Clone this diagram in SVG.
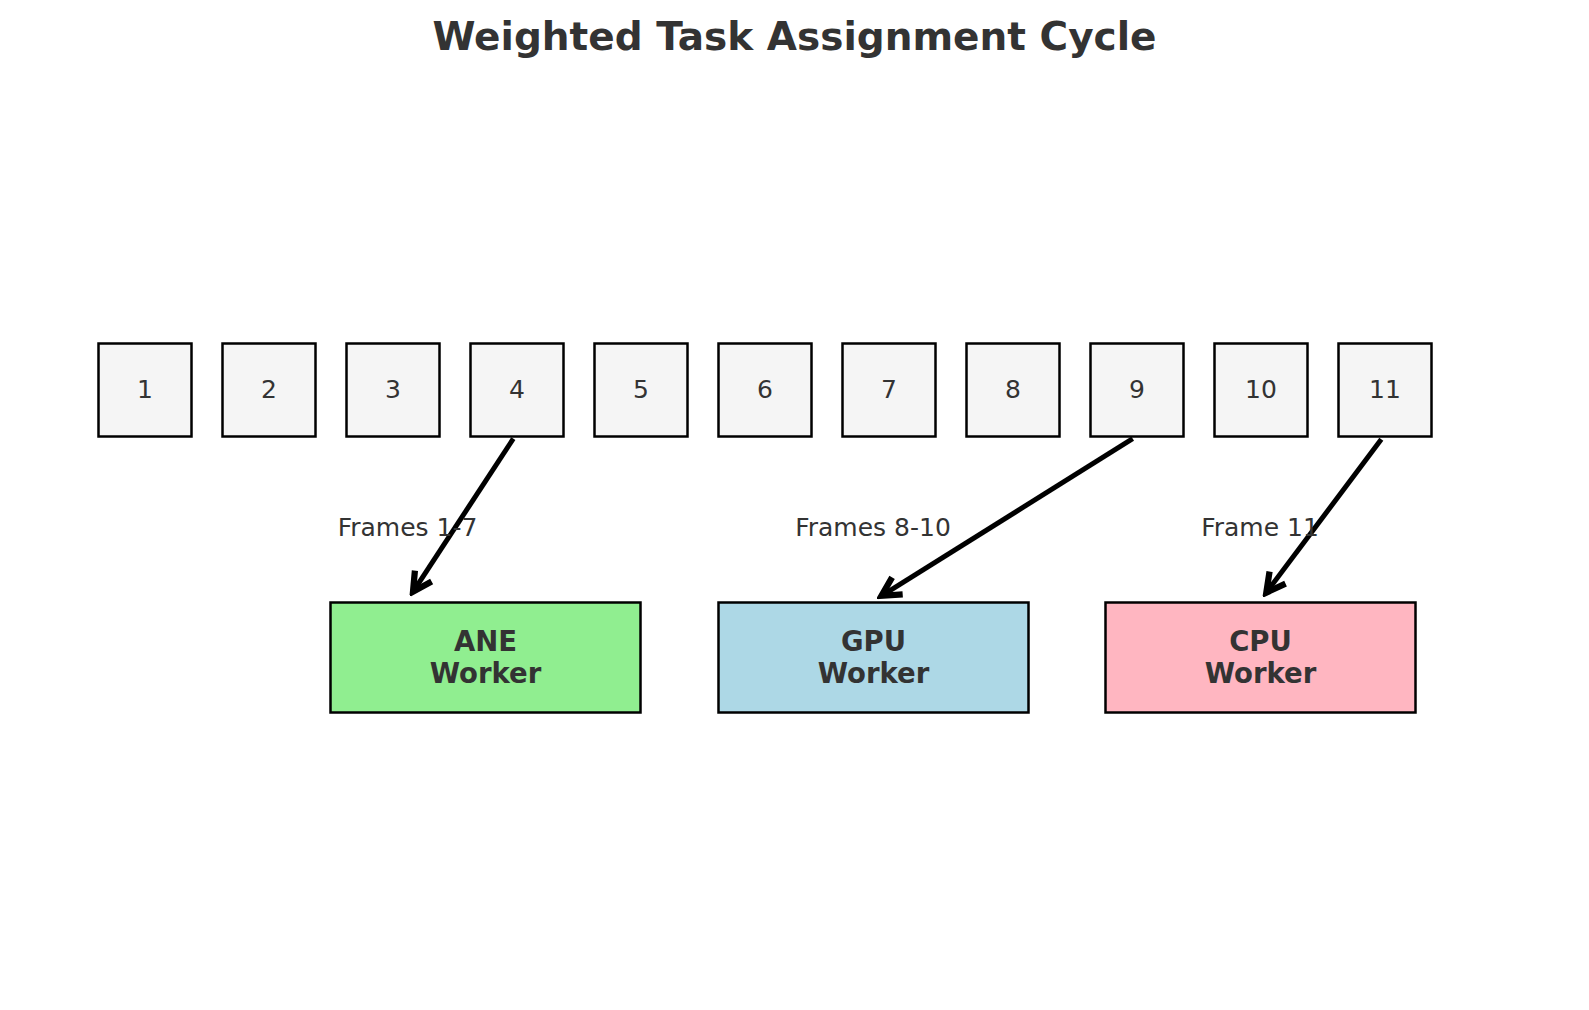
<svg xmlns="http://www.w3.org/2000/svg" width="1589" height="1010" viewBox="0 0 1589 1010">
<style>
text{font-family:"DejaVu Sans","Liberation Sans",sans-serif;fill:#333333}
.title{font-size:39px;font-weight:bold}
.frame rect{fill:#f5f5f5;stroke:#000;stroke-width:2.5}
.frame text{font-size:25px;text-anchor:middle}
.worker rect{stroke:#000;stroke-width:2.5}
.worker text{font-size:27.5px;font-weight:bold;text-anchor:middle}
.lbl{font-size:25px;text-anchor:middle}
.conn line{stroke:#000;stroke-width:5;fill:none}
</style>
<defs>
<marker id="ah" markerUnits="userSpaceOnUse" markerWidth="30" markerHeight="30" viewBox="-20 -12 24 24" refX="0" refY="0" orient="auto">
<path d="M-15,-8 L0,0 L-15,8" fill="none" stroke="#000" stroke-width="5" stroke-linejoin="miter" stroke-linecap="butt"/>
</marker>
</defs>
<rect width="1589" height="1010" fill="#fff"/>
<text class="title" x="794.5" y="50" text-anchor="middle">Weighted Task Assignment Cycle</text>
<g id="f1" class="frame"><rect x="98.5" y="343.5" width="93" height="93"/><text x="145" y="397.5">1</text></g>
<g id="f2" class="frame"><rect x="222.5" y="343.5" width="93" height="93"/><text x="269" y="397.5">2</text></g>
<g id="f3" class="frame"><rect x="346.5" y="343.5" width="93" height="93"/><text x="393" y="397.5">3</text></g>
<g id="f4" class="frame"><rect x="470.5" y="343.5" width="93" height="93"/><text x="517" y="397.5">4</text></g>
<g id="f5" class="frame"><rect x="594.5" y="343.5" width="93" height="93"/><text x="641" y="397.5">5</text></g>
<g id="f6" class="frame"><rect x="718.5" y="343.5" width="93" height="93"/><text x="765" y="397.5">6</text></g>
<g id="f7" class="frame"><rect x="842.5" y="343.5" width="93" height="93"/><text x="889" y="397.5">7</text></g>
<g id="f8" class="frame"><rect x="966.5" y="343.5" width="93" height="93"/><text x="1013" y="397.5">8</text></g>
<g id="f9" class="frame"><rect x="1090.5" y="343.5" width="93" height="93"/><text x="1137" y="397.5">9</text></g>
<g id="f10" class="frame"><rect x="1214.5" y="343.5" width="93" height="93"/><text x="1261" y="397.5">10</text></g>
<g id="f11" class="frame"><rect x="1338.5" y="343.5" width="93" height="93"/><text x="1385" y="397.5">11</text></g>
<g id="ane" class="worker"><rect x="330.5" y="602.5" width="310" height="110" fill="#90ee90"/><text x="485.5" y="651">ANE</text><text x="485.5" y="683">Worker</text></g>
<g id="gpu" class="worker"><rect x="718.5" y="602.5" width="310" height="110" fill="#add8e6"/><text x="873.5" y="651">GPU</text><text x="873.5" y="683">Worker</text></g>
<g id="cpu" class="worker"><rect x="1105.5" y="602.5" width="310" height="110" fill="#ffb6c1"/><text x="1260.5" y="651">CPU</text><text x="1260.5" y="683">Worker</text></g>
<g id="connectors" class="conn">
<line x1="513.3" y1="438.7" x2="413" y2="591.8" marker-end="url(#ah)"/>
<line x1="1132.7" y1="438.7" x2="881.5" y2="595.8" marker-end="url(#ah)"/>
<line x1="1381.3" y1="439.3" x2="1266.3" y2="592.6" marker-end="url(#ah)"/>
</g>
<text class="lbl" x="407.5" y="536">Frames 1-7</text>
<text class="lbl" x="873" y="536">Frames 8-10</text>
<text class="lbl" x="1260" y="536">Frame 11</text>
</svg>
